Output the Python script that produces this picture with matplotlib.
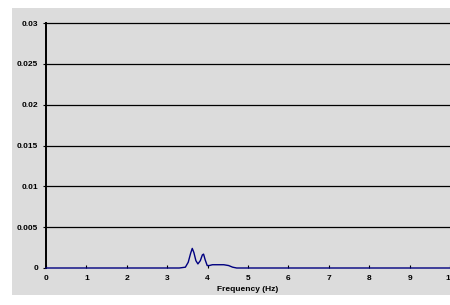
import matplotlib

matplotlib.use("Agg")
import matplotlib.pyplot as plt
from matplotlib.patches import Rectangle

# spectrum (Hz, amplitude)
freq = [0.0, 3.30, 3.45, 3.52, 3.58, 3.62, 3.66, 3.71, 3.76, 3.82, 3.87, 3.90,
        3.94, 3.99, 4.04, 4.12, 4.25, 4.40, 4.52, 4.62, 4.72, 10.0]
amp = [0.0, 0.0, 0.0001, 0.0007, 0.0018, 0.0024, 0.0019, 0.0009, 0.0005, 0.0009,
       0.0016, 0.0017, 0.0010, 0.0003, 0.0003, 0.0004, 0.0004, 0.0004, 0.0003,
       0.0001, 0.0, 0.0]

x_ticks = list(range(0, 11))
y_ticks = [0, 0.005, 0.01, 0.015, 0.02, 0.025, 0.03]
y_labels = ["0", "0.005", "0.01", "0.015", "0.02", "0.025", "0.03"]

W, H = 450, 305
fig = plt.figure(figsize=(W / 100, H / 100), dpi=100, facecolor="white")
# grey chart area, as in a spreadsheet export
fig.patches.append(Rectangle((12 / W, 10 / H), 1 - 12 / W, (H - 18) / H,
                             transform=fig.transFigure, facecolor="#dcdcdc",
                             edgecolor="none", zorder=-10))

ax = fig.add_axes([46 / W, (H - 268) / H, 1 - 46 / W, 245 / H])
ax.patch.set_visible(False)

ax.plot(freq, amp, color="#000080", lw=1.0, zorder=3, clip_on=False)
ax.set_xlim(0, 10)
ax.set_ylim(0, 0.03)

for y in y_ticks[1:]:
    ax.axhline(y, color="black", lw=0.9, zorder=1, clip_on=False)

for s in ("top", "right", "bottom"):
    ax.spines[s].set_visible(False)
ax.spines["left"].set_linewidth(1.4)
ax.spines["left"].set_color("black")

font = dict(family="Liberation Sans", weight="bold", size=6)
ax.set_xticks(x_ticks)
ax.set_xticklabels([str(v) for v in x_ticks], **font)
ax.set_yticks(y_ticks)
ax.set_yticklabels(y_labels, **font)
ax.tick_params(axis="x", direction="in", length=2.5, width=0.8, pad=5, color="black")
ax.tick_params(axis="y", direction="out", length=2.5, width=0.8, pad=3, color="black")

ax.set_xlabel("Frequency (Hz)", labelpad=3, **font)

fig.savefig("out.png", dpi=100, facecolor=fig.get_facecolor())
